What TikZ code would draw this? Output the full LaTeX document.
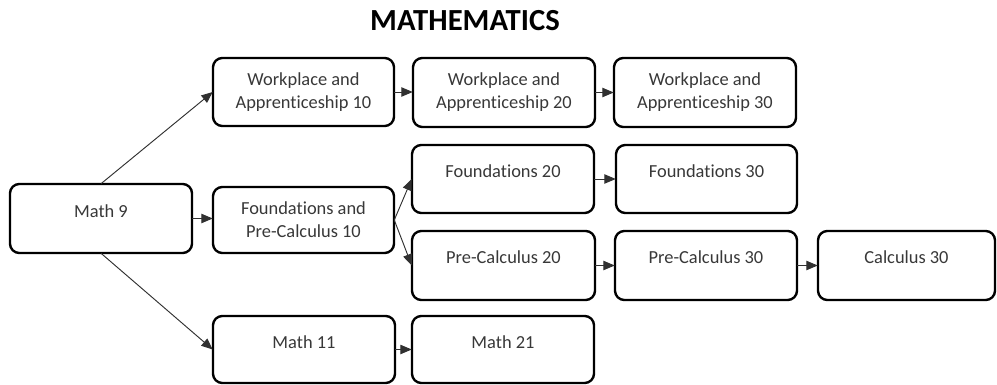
\documentclass[tikz,border=0pt]{standalone}
\usepackage{fontspec}
\setmainfont{Carlito}[Ligatures={NoCommon,NoContextual}]
\usetikzlibrary{arrows.meta}
\definecolor{txtgray}{HTML}{383838}
\definecolor{linegray}{HTML}{303030}
\tikzset{
  box/.style={draw=black, line width=1.8pt, rounded corners=7pt, fill=white, inner sep=0pt},
  txt/.style={text=txtgray, font=\fontsize{13.8}{17}\selectfont, align=center, inner sep=0pt},
  conn/.style={draw=linegray, line width=0.7pt, -{Triangle[length=8.5pt,width=7pt]}},
}
\newcommand{\pbox}[5]{%
  % name, x1, y1, x2, y2 in px
  \path[box] (#2,#3) rectangle (#4,#5);
  \node[minimum width={(#4-#2)*0.75pt}, minimum height={(#5-#3)*0.75pt}, inner sep=0pt] (#1) at ({(#2+#4)/2},{(#3+#5)/2}) {};
}
\begin{document}
\begin{tikzpicture}[x=0.75pt,y=-0.75pt]
\useasboundingbox (0,0) rectangle (997,385);
\fill[white] (0,0) rectangle (997,385);

\node[font=\fontsize{23}{27}\selectfont\bfseries, text=black, inner sep=0pt] (title) at (465,21) {MATHEMATICS};

% boxes
\pbox{wa10}{213}{58}{394}{126}
\pbox{wa20}{413}{58}{595}{127}
\pbox{wa30}{614}{58}{796}{127}
\pbox{f20}{412}{145}{594}{213}
\pbox{f30}{616}{145}{797}{213}
\pbox{m9}{10}{184}{192}{253}
\pbox{fpc10}{213}{187}{394}{253}
\pbox{pc20}{412}{231}{595}{300}
\pbox{pc30}{615}{231}{797}{300}
\pbox{c30}{818}{231}{995}{300}
\pbox{m11}{213}{316}{395}{383}
\pbox{m21}{412}{316}{594}{383}

% texts
\node[txt] (t-wa10) at (303.5,92) {Workplace and\\Apprenticeship 10};
\node[txt] (t-wa20) at (504,92) {Workplace and\\Apprenticeship 20};
\node[txt] (t-wa30) at (705,92) {Workplace and\\Apprenticeship 30};
\node[txt] (t-f20) at (503,171) {Foundations 20};
\node[txt] (t-f30) at (706.5,171) {Foundations 30};
\node[txt] (t-m9) at (101,211) {Math 9};
\node[txt] (t-fpc10) at (303.5,220) {Foundations and\\Pre-Calculus 10};
\node[txt] (t-pc20) at (503.5,257) {Pre-Calculus 20};
\node[txt] (t-pc30) at (706,257) {Pre-Calculus 30};
\node[txt] (t-c30) at (906.5,257) {Calculus 30};
\node[txt] (t-m11) at (304,342) {Math 11};
\node[txt] (t-m21) at (503,342) {Math 21};

% connectors
\draw[conn] (m9.north) -- (wa10.west);
\draw[conn] (m9.east) -- (m9.east -| fpc10.west);
\draw[conn] (m9.south) -- (m11.west);
\draw[conn] (wa10.east) -- (wa10.east -| wa20.west);
\draw[conn] (wa20.east) -- (wa20.east -| wa30.west);
\draw[conn] (fpc10.east) -- (f20.west);
\draw[conn] (fpc10.east) -- (pc20.west);
\draw[conn] (f20.east) -- (f20.east -| f30.west);
\draw[conn] (pc20.east) -- (pc20.east -| pc30.west);
\draw[conn] (pc30.east) -- (pc30.east -| c30.west);
\draw[conn] (m11.east) -- (m11.east -| m21.west);
\end{tikzpicture}
\end{document}
